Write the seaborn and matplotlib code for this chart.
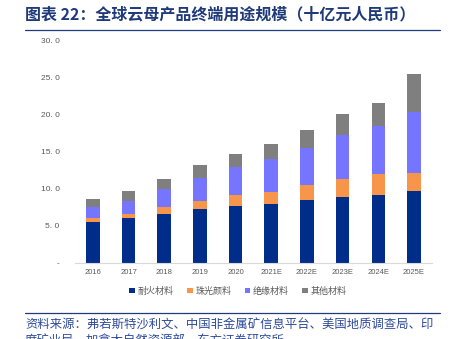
import matplotlib
matplotlib.use("Agg")
import matplotlib.pyplot as plt
import seaborn as sns
import pandas as pd
import numpy as np

years = ["2016", "2017", "2018", "2019", "2020", "2021E", "2022E", "2023E", "2024E", "2025E"]
series_names = ["耐火材料", "珠光颜料", "绝缘材料", "其他材料"]
refractory = [5.5, 6.0, 6.6, 7.2, 7.7, 8.0, 8.5, 8.9, 9.2, 9.7]
pearlescent = [0.55, 0.6, 0.9, 1.1, 1.4, 1.6, 2.0, 2.45, 2.8, 2.4]
insulation = [1.45, 1.8, 2.4, 3.2, 3.75, 4.35, 5.0, 5.85, 6.45, 8.25]
other = [1.1, 1.3, 1.45, 1.65, 1.85, 2.0, 2.4, 2.85, 3.05, 5.05]
colors = ["#002D8A", "#F7964A", "#7575FF", "#7F7F7F"]
ytick_vals = [0, 5, 10, 15, 20, 25, 30]
ytick_labels = ["-", "5. 0", "10. 0", "15. 0", "20. 0", "25. 0", "30. 0"]

sns.set_theme(style="white")
plt.rcParams["font.family"] = ["Noto Sans CJK SC", "DejaVu Sans"]

fig = plt.figure(figsize=(4.56, 3.39), dpi=100)
ax = fig.add_axes([0.1645, 0.2242, 0.7825, 0.6578])

vals = np.array([refractory, pearlescent, insulation, other])
cum = np.cumsum(vals, axis=0)
for i in range(3, -1, -1):
    df = pd.DataFrame({"year": years, "v": cum[i]})
    sns.barplot(data=df, x="year", y="v", color=colors[i], saturation=1,
                width=0.38, ax=ax, label=series_names[i], linewidth=0)

handles, labels = ax.get_legend_handles_labels()
if ax.get_legend() is not None:
    ax.get_legend().remove()

ax.set_xlim(-0.5, 9.5)
ax.set_ylim(0, 30)
ax.set_yticks(ytick_vals)
ax.set_yticklabels(ytick_labels, fontsize=6, color="#595959", family=["Liberation Sans", "DejaVu Sans"])
ax.set_xticks(range(len(years)))
ax.set_xticklabels(years, fontsize=5.5, color="#595959", family=["Liberation Sans", "DejaVu Sans"])
ax.tick_params(axis="y", length=0, pad=11)
ax.tick_params(axis="x", length=0, pad=4)
ax.set_xlabel("")
ax.set_ylabel("")
for s in ["top", "right", "left"]:
    ax.spines[s].set_visible(False)
ax.spines["bottom"].set_color("#D9D9D9")
ax.spines["bottom"].set_linewidth(0.8)
ax.grid(False)

order = [labels.index(n) for n in series_names]
fig.legend([handles[k] for k in order], [labels[k] for k in order],
           loc="center", bbox_to_anchor=(0.522, 1 - 291 / 339), ncol=4, frameon=False,
           fontsize=6.5, handlelength=0.6, handleheight=0.6, handletextpad=0.3,
           columnspacing=1.5, labelcolor="#595959")

title_color = "#1F3A7A"
fig.text(25 / 456, 1 - 14 / 339, "图表 22：全球云母产品终端用途规模（十亿元人民币）",
         fontsize=11.5, fontweight="bold", color=title_color, va="center", ha="left")
fig.add_artist(plt.Line2D([25 / 456, 440 / 456], [1 - 30 / 339, 1 - 30 / 339],
                          color=title_color, linewidth=0.9))
fig.add_artist(plt.Line2D([25 / 456, 440 / 456], [1 - 313 / 339, 1 - 313 / 339],
                          color=title_color, linewidth=0.9))
fig.text(25 / 456, 1 - 325 / 339, "资料来源：弗若斯特沙利文、中国非金属矿信息平台、美国地质调查局、印",
         fontsize=8.9, color="#2E4A9A", va="center", ha="left", style="italic")
fig.text(25 / 456, 1 - 341 / 339, "度矿业局、加拿大自然资源部、东方证券研究所",
         fontsize=8.9, color="#2E4A9A", va="center", ha="left", style="italic")

fig.savefig("out.png", dpi=100)
